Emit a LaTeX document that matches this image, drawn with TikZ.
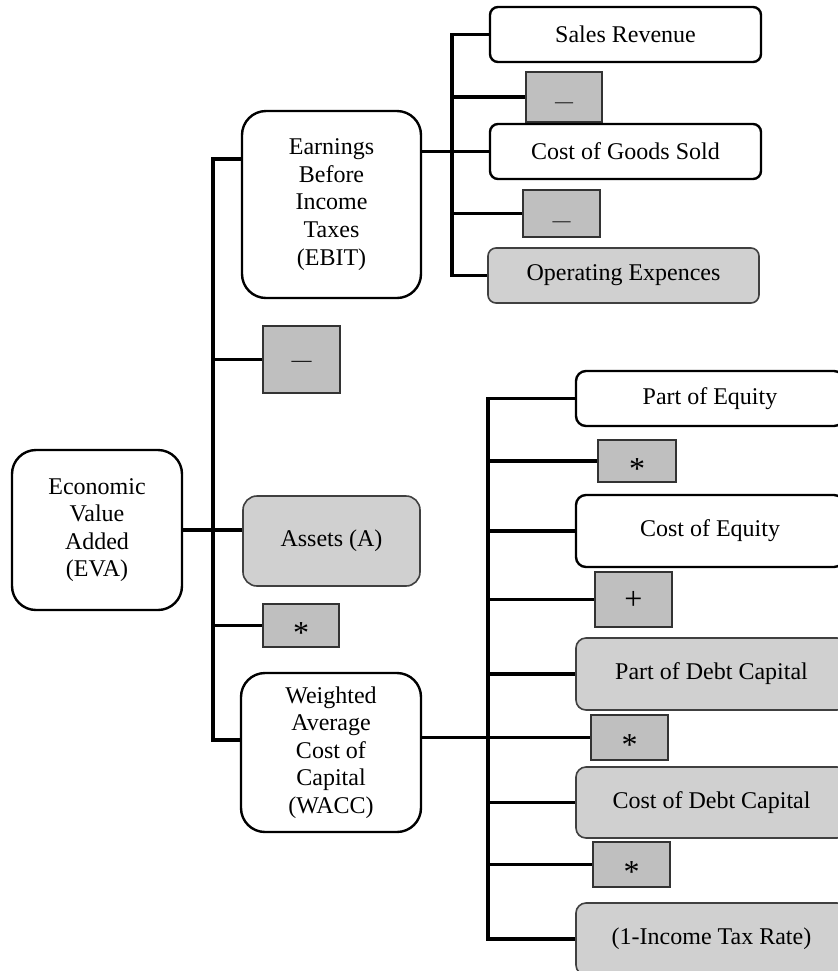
\documentclass[tikz,border=0pt]{standalone}
\usepackage{fontspec}
\setmainfont{Liberation Serif}
\definecolor{opfill}{HTML}{BFBFBF}
\definecolor{keyfill}{HTML}{D0D0D0}
\definecolor{keyline}{HTML}{404040}
\tikzset{
  eva box/.style={draw,line width=1.2pt,fill=white,align=center,inner sep=0pt},
  eva key/.style={draw=keyline,line width=.8pt,fill=keyfill,align=center,inner sep=0pt},
  eva op/.style={draw=black!80,line width=.7pt,fill=opfill,inner sep=0pt,minimum width=38.5pt},
  eva link/.style={line width=1.9pt}
}
\newcommand{\evadash}[2]{\smash{\raisebox{#1}{\fontsize{#2}{#2}\selectfont\textemdash}}}
\newcommand{\evastar}{\smash{\raisebox{-9pt}{\fontsize{16}{16}\selectfont *}}}

\begin{document}
\begin{tikzpicture}[x=.5pt,y=-.5pt,font=\fontsize{12}{13.8}\selectfont]
  \useasboundingbox (0,0) rectangle (838,971);
  \clip (0,0) rectangle (838,971);
  \coordinate (mtop) at (213,159);
  \coordinate (mbot) at (213,740);
  \coordinate (ux) at (452,0);
  \coordinate (lx) at (488,0);
  % left part
  \node[eva box,rounded corners=12pt,minimum width=85pt,minimum height=80pt] (eva) at (97,530) {Economic\\Value\\Added\\(EVA)};
  \node[eva box,rounded corners=12pt,minimum width=89.5pt,minimum height=93.5pt] (ebit) at (331.5,204.5) {Earnings\\Before\\Income\\Taxes\\(EBIT)};
  \node[eva op,minimum height=33.5pt] (mn) at (301.5,359.5) {\evadash{-3.7pt}{10}};
  \node[eva key,rounded corners=7pt,minimum width=88.5pt,minimum height=45pt] (assets) at (331.5,541) {Assets (A)};
  \node[eva op,minimum width=38pt,minimum height=21.5pt] (st) at (301,625.5) {\evastar};
  \node[eva box,rounded corners=12pt,minimum width=90pt,minimum height=79.5pt] (wacc) at (331,752.5) {Weighted\\Average\\Cost of\\Capital\\(WACC)};
  % EBIT part
  \node[eva box,rounded corners=4pt,minimum width=135.5pt,minimum height=27.5pt] (sales) at (625.5,34.5) {Sales Revenue};
  \node[eva op,minimum width=38pt,minimum height=25pt] (ma) at (564,97) {\evadash{-5.2pt}{9}};
  \node[eva box,rounded corners=4pt,minimum width=135.5pt,minimum height=27.5pt] (cogs) at (625.5,151.5) {Cost of Goods Sold};
  \node[eva op,minimum height=23.5pt] (mb) at (561.5,213.5) {\evadash{-6.3pt}{9}};
  \node[eva key,rounded corners=4pt,minimum width=135.5pt,minimum height=27.5pt] (opex) at (623.5,275.5) {Operating Expences};
  % WACC part
  \node[eva box,rounded corners=5pt,minimum width=134pt,minimum height=27.5pt] (parteq) at (710,398.5) {Part of Equity};
  \node[eva op,minimum width=39pt,minimum height=21pt] (sa) at (637,461) {\evastar};
  \node[eva box,rounded corners=5pt,minimum width=134pt,minimum height=36pt] (costeq) at (710,531) {Cost of Equity};
  \node[eva op,minimum height=27.5pt] (pl) at (633.5,599.5) {\smash{\raisebox{-4.75pt}{\fontsize{16}{16}\selectfont +}}};
  \node[eva key,rounded corners=5pt,minimum width=135.5pt,minimum height=36pt] (partdebt) at (711.5,674) {Part of Debt Capital};
  \node[eva op,minimum height=22.5pt] (sb) at (629.5,737.5) {\evastar};
  \node[eva key,rounded corners=5pt,minimum width=135.5pt,minimum height=35.5pt] (costdebt) at (711.5,802.5) {Cost of Debt Capital};
  \node[eva op,minimum height=22.5pt] (sc) at (631.5,864.5) {\evastar};
  \node[eva key,rounded corners=5pt,minimum width=135.5pt,minimum height=36pt] (tax) at (711.5,939) {(1-Income Tax Rate)};
  % links
  \draw[eva link] (ebit.west |- mtop) -- (mtop) -- (mbot) -- (mbot -| wacc.west);
  \draw[eva link] (eva.east) -- (eva.east -| assets.west);
  \foreach \n in {mn,st}{\draw[eva link] (mtop |- \n.west) -- (\n.west);}
  \draw[eva link] (sales.west) -- (sales.west -| ux) -- (opex.west -| ux) -- (opex.west);
  \draw[eva link] (ebit.east |- cogs.west) -- (cogs.west);
  \foreach \n in {ma,mb}{\draw[eva link] (ux |- \n.west) -- (\n.west);}
  \draw[eva link] (parteq.west) -- (parteq.west -| lx) -- (tax.west -| lx) -- (tax.west);
  \draw[eva link] (wacc.east |- sb.west) -- (sb.west);
  \foreach \n in {sa,costeq,pl,partdebt,costdebt,sc}{\draw[eva link] (lx |- \n.west) -- (\n.west);}
\end{tikzpicture}
\end{document}
